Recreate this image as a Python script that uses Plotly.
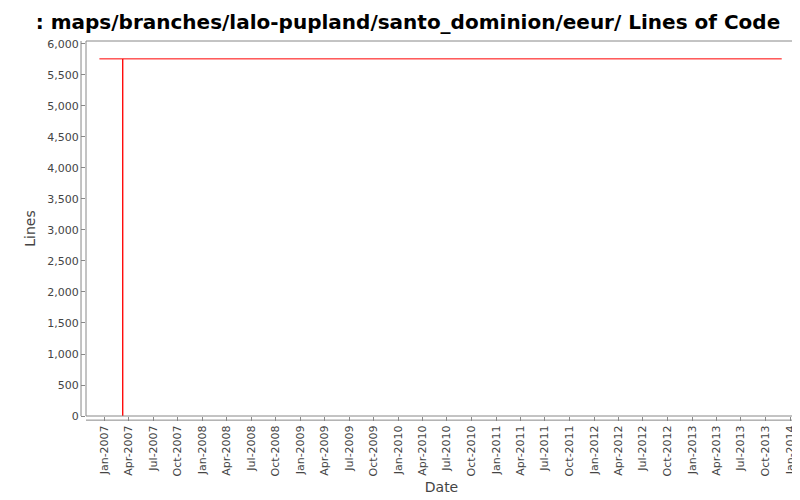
import plotly.graph_objs as go

# one commit sample drops to zero and back at the same date
dates = ["2006-12-13", "2007-03-10", "2007-03-10", "2007-03-10", "2013-12-01"]
lines = [5760, 5760, 0, 5760, 5760]

trace = go.Scatter(x=dates, y=lines, mode="lines",
                   line=dict(color="#ff0000", width=1), showlegend=False)

tick_font = dict(family="DejaVu Sans", size=11, color="#444444")

layout = go.Layout(
    width=800, height=500,
    margin=dict(l=78, r=11, t=33, b=92, autoexpand=False),
    paper_bgcolor="white", plot_bgcolor="white",
    title=dict(text="<b>: maps/branches/lalo-pupland/santo_dominion/eeur/ Lines of Code</b>",
               x=0.5, xanchor="center", y=0.973, yanchor="middle",
               font=dict(family="DejaVu Sans", size=20, color="black")),
    xaxis=dict(type="date", range=["2006-10-24", "2014-01-27"], automargin=False,
               dtick="M3", tick0="2007-01-01", tickformat="%b-%Y", tickangle=-90,
               ticks="outside", ticklen=4, tickcolor="#888888",
               showgrid=False, zeroline=False, tickfont=tick_font,
               title=dict(text="Date", font=dict(family="DejaVu Sans", size=14, color="#444444"),
                          standoff=6)),
    yaxis=dict(range=[0, 6048], dtick=500, tickformat=",d", automargin=False,
               ticks="outside", ticklen=4, tickcolor="#888888",
               showgrid=False, zeroline=False, tickfont=tick_font,
               title=dict(text="Lines", font=dict(family="DejaVu Sans", size=14, color="#444444"),
                          standoff=8)),
    shapes=[
        dict(type="rect", xref="paper", yref="paper", x0=0, y0=0, x1=1, y1=1,
             line=dict(color="#888888", width=1)),
        dict(type="line", xref="paper", yref="paper", x0=-0.007, y0=0, x1=-0.007, y1=1,
             line=dict(color="#888888", width=1)),
        dict(type="line", xref="paper", yref="paper", x0=0, y0=-0.011, x1=1, y1=-0.011,
             line=dict(color="#888888", width=1)),
    ],
)

fig = go.Figure(data=[trace], layout=layout)
fig.write_html("out.html")
